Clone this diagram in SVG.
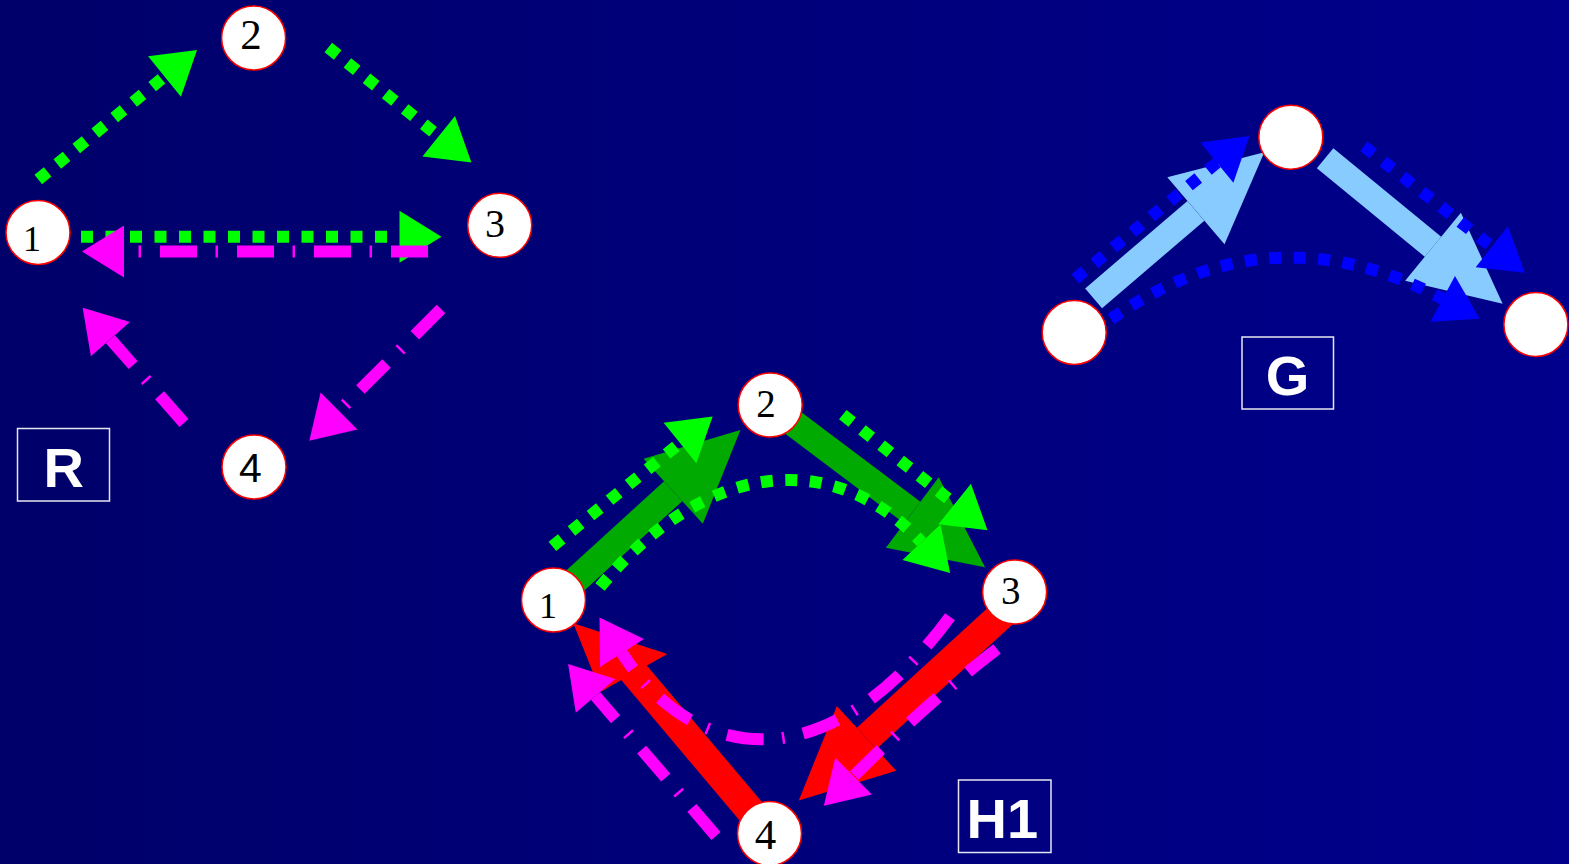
<svg xmlns="http://www.w3.org/2000/svg" width="1569" height="864" viewBox="0 0 1569 864">
<defs>
<linearGradient id="bg" x1="0" y1="0" x2="1" y2="0">
<stop offset="0" stop-color="#00006A"/>
<stop offset="1" stop-color="#00008C"/>
</linearGradient>
<marker id="hG" markerUnits="userSpaceOnUse" markerWidth="44" markerHeight="54" viewBox="0 -27 44 54" refX="0" refY="0" orient="auto" overflow="visible"><path d="M0,-26L42,0L0,26Z" fill="#00FF00"/></marker>
<marker id="hM" markerUnits="userSpaceOnUse" markerWidth="44" markerHeight="54" viewBox="0 -27 44 54" refX="0" refY="0" orient="auto" overflow="visible"><path d="M0,-26L42,0L0,26Z" fill="#FF00FF"/></marker>
<marker id="hB" markerUnits="userSpaceOnUse" markerWidth="44" markerHeight="54" viewBox="0 -27 44 54" refX="0" refY="0" orient="auto" overflow="visible"><path d="M0,-26L42,0L0,26Z" fill="#0000FF"/></marker>
<marker id="hDG" markerUnits="userSpaceOnUse" markerWidth="92" markerHeight="90" viewBox="0 -45 92 90" refX="0" refY="0" orient="auto" overflow="visible"><path d="M0,-44L91,0L0,44Z" fill="#00AA00"/></marker>
<marker id="hLB" markerUnits="userSpaceOnUse" markerWidth="92" markerHeight="90" viewBox="0 -45 92 90" refX="0" refY="0" orient="auto" overflow="visible"><path d="M0,-44L90,0L0,44Z" fill="#88CCFF"/></marker>
<marker id="hR" markerUnits="userSpaceOnUse" markerWidth="92" markerHeight="90" viewBox="0 -45 92 90" refX="0" refY="0" orient="auto" overflow="visible"><path d="M0,-44L92,0L0,44Z" fill="#FF0000"/></marker>
<style>
.dot{fill:none;stroke-width:12;stroke-dasharray:12 12.5;stroke-linecap:butt}
.dd{fill:none;stroke:#FF00FF;stroke-width:12;stroke-dasharray:37 19 2.5 18.5;stroke-linecap:butt;marker-end:url(#hM)}
.g{stroke:#00FF00;marker-end:url(#hG)}
.b{stroke:#0000FF;marker-end:url(#hB)}
.thick{fill:none;stroke-width:27;stroke-linecap:butt}
.dg{stroke:#00AA00;marker-end:url(#hDG)}
.lb{stroke:#88CCFF;stroke-width:26;marker-end:url(#hLB)}
.red{stroke:#FF0000;stroke-width:29}
.node circle{fill:#FFFFFF;stroke:#FF0000;stroke-width:1.5}
.num{font-family:"Liberation Serif","Times New Roman",serif;fill:#000000;text-anchor:middle}
.lbl rect{fill:none;stroke:#E6E6F0;stroke-width:1.5}
.lbl text{font-family:"Liberation Sans",Arial,sans-serif;font-weight:bold;font-size:56px;fill:#FFFFFF;text-anchor:middle}
</style>
</defs>
<rect x="0" y="0" width="1569" height="864" fill="url(#bg)"/>

<g id="connectors">
  <!-- R -->
  <path class="dot g" d="M38.3,179.5L164.5,76.5"/>
  <path class="dot g" d="M328.3,47.5L438.7,136.3"/>
  <path class="dot g" d="M81,236.7L399.5,236.7"/>
  <path class="dd" d="M428,251.5L124,251.5"/>
  <path class="dd" d="M441,309L339,411"/>
  <path class="dd" d="M184,423L110.4,339.2"/>
  <!-- G -->
  <path class="thick lb" d="M1093.6,298.3L1195.9,210.8"/>
  <path class="thick lb" d="M1325.1,158.3L1433,246.7"/>
  <path class="dot b" d="M1075.3,278.8L1216.9,162.7"/>
  <path class="dot b" d="M1363.9,146.3L1491.8,246.7"/>
  <path class="dot b" d="M1111,319Q1271,207 1442.7,298.9"/>
  <!-- H1 -->
  <path class="thick dg" d="M561,593.5L673.2,491.2"/>
  <path class="thick dg" d="M777.7,411.3L912.3,512.5"/>
  <path class="dot g" d="M552.4,546.4L680,443"/>
  <path class="dot g" d="M842.8,414.6L954.7,504"/>
  <path class="dot g" d="M600,587C705.6,459.9 833.1,447.3 921.5,542.2"/>
  <path class="thick red" d="M1014,603.4L866.6,738.4" marker-end="url(#hR)"/>
  <path class="thick red" d="M769.5,833.5L630,668"/>
  <polygon points="573.3,623.3 667.3,654 600.7,691.7" fill="#FF0000"/>
  <path class="dd" d="M716,836L595.5,695.9"/>
  <path class="dd" d="M950,616.7C819.3,793.8 686.4,754.5 622,653"/>
  <path class="dd" d="M997,649Q930,700 853.6,776.2"/>
</g>

<!-- R nodes -->
<g id="R1" class="node"><circle cx="38" cy="232.5" r="32"/><text class="num" x="32" y="250.5" font-size="36">1</text></g>
<g id="R2" class="node"><circle cx="253.6" cy="38" r="32"/><text class="num" x="251" y="49.3" font-size="43">2</text></g>
<g id="R3" class="node"><circle cx="499.7" cy="225.3" r="32"/><text class="num" x="495" y="237" font-size="40">3</text></g>
<g id="R4" class="node"><circle cx="254" cy="467" r="32"/><text x="250.5" y="482.3" font-size="41" font-family="Liberation Sans, Arial, sans-serif" text-anchor="middle" fill="#000000">4</text></g>
<g id="labelR" class="lbl"><rect x="17.5" y="428.5" width="92" height="72.5"/><text x="63.8" y="486.7">R</text></g>

<!-- G nodes -->
<g id="G1" class="node"><circle cx="1074.2" cy="332.5" r="32"/></g>
<g id="G2" class="node"><circle cx="1290.8" cy="137.2" r="32"/></g>
<g id="G3" class="node"><circle cx="1535.9" cy="324.5" r="32"/></g>
<g id="labelG" class="lbl"><rect x="1242" y="337" width="91.5" height="72"/><text x="1287.5" y="394.5">G</text></g>

<!-- H1 nodes -->
<g id="H1n1" class="node"><circle cx="553.5" cy="600" r="32"/><text class="num" x="548" y="617.7" font-size="36">1</text></g>
<g id="H1n2" class="node"><circle cx="770.2" cy="405" r="32"/><text class="num" x="766" y="416.7" font-size="39">2</text></g>
<g id="H1n3" class="node"><circle cx="1014.6" cy="592" r="32"/><text class="num" x="1010.8" y="604" font-size="39">3</text></g>
<g id="H1n4" class="node"><circle cx="769.5" cy="833.5" r="32"/><text class="num" x="765.5" y="849.3" font-size="43">4</text></g>
<g id="labelH1" class="lbl"><rect x="958.5" y="780" width="92.5" height="72.5"/><text x="1002.3" y="838.3">H1</text></g>
</svg>
